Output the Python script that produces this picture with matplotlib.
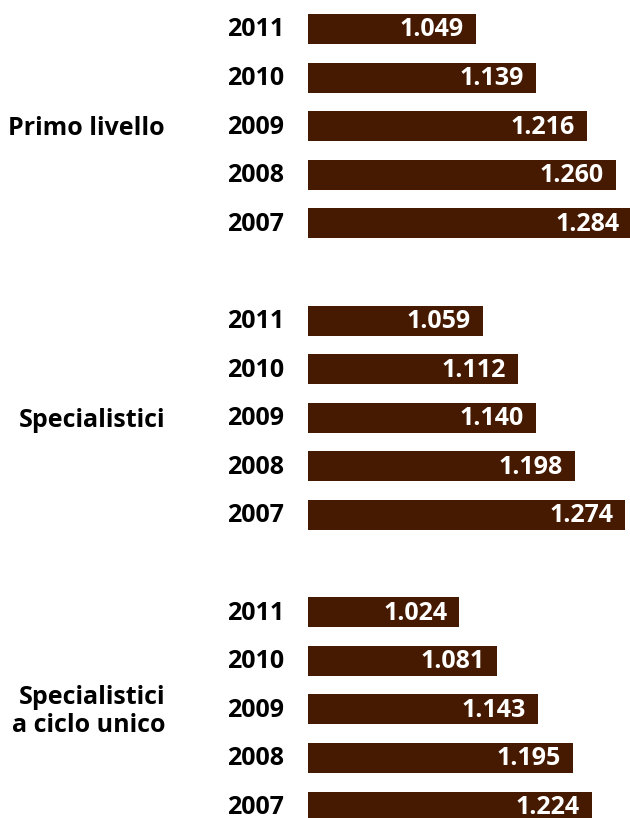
import numpy as np
import matplotlib.pyplot as plt

plt.rcParams['font.family'] = ['Open Sans', 'DejaVu Sans']

groups = ["Primo livello", "Specialistici", "Specialistici\na ciclo unico"]
years = ["2011", "2010", "2009", "2008", "2007"]
primo_livello = [1.049, 1.139, 1.216, 1.260, 1.284]
specialistici = [1.059, 1.112, 1.140, 1.198, 1.274]
ciclo_unico = [1.024, 1.081, 1.143, 1.195, 1.224]

bar_color = '#461a00'
x_start = 0.796
px = 1 / 663.5  # one pixel in data units along x

fig = plt.figure(figsize=(6.3, 8.18), dpi=100)
# axes spans from the bar base to the right edge of the figure
ax = fig.add_axes([308 / 630, 0, 322 / 630, 1])

series = [primo_livello, specialistici, ciclo_unico]
for g, (name, vals) in enumerate(zip(groups, series)):
    pos = np.arange(len(years)) + g * (len(years) + 1)
    ax.barh(pos, np.array(vals) - x_start, left=x_start, height=0.62,
            color=bar_color)
    for p, v, yr in zip(pos, vals, years):
        ax.text(v - 12 * px, p + 0.02, f"{v:.3f}", color='white',
                fontsize=18, fontweight='bold', ha='right', va='center')
        ax.text(x_start - 24 * px, p + 0.02, yr, color='black', fontsize=18,
                fontweight='bold', ha='right', va='center', clip_on=False)
    ax.text(x_start - 143 * px, pos[2] + 0.05, name, color='black',
            fontsize=18, fontweight='bold', ha='right', va='center',
            linespacing=1.15, multialignment='right', clip_on=False)

ax.set_xlim(x_start, x_start + 322 * px)
ax.set_ylim((818 - 29) / 48.6, -29 / 48.6)
ax.axis('off')

fig.savefig('out.png', dpi=100)
